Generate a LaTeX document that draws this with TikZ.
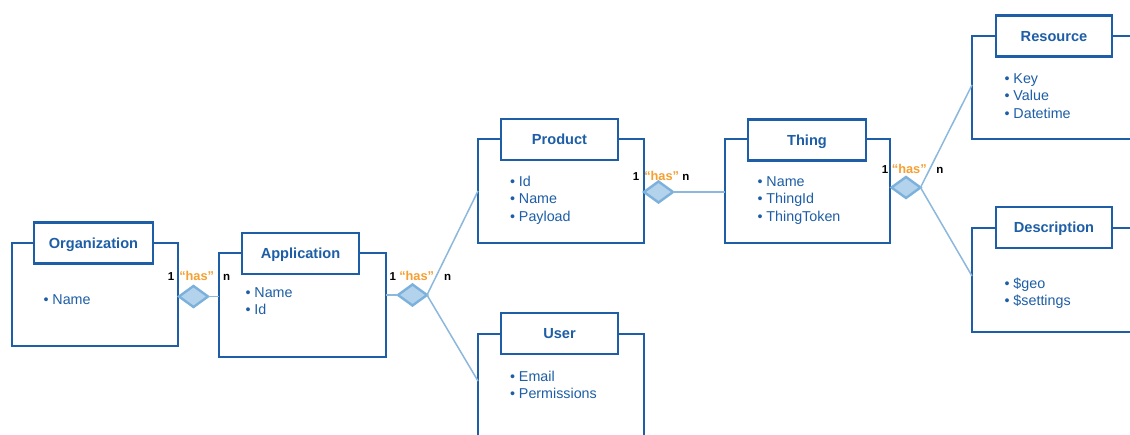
\documentclass[tikz,border=0pt]{standalone}
\usepackage{fontspec}
\setmainfont{Liberation Sans}
\usetikzlibrary{shapes.geometric,calc}
\definecolor{boxblue}{HTML}{1D5EA6}
\definecolor{txtblue}{HTML}{1D5EA6}
\definecolor{linkblue}{HTML}{8CB8DD}
\definecolor{diafill}{HTML}{B3D3ED}
\definecolor{diadraw}{HTML}{7CB1DC}
\definecolor{hasorange}{HTML}{F5A031}
\tikzset{
 entity/.style={draw=boxblue, line width=2.8pt, minimum width=166pt, minimum height=104pt, inner sep=0pt, outer sep=0pt},
 titlebox/.style={draw=boxblue, fill=white, line width=2.8pt, minimum width=117pt, minimum height=41pt, inner sep=0pt, outer sep=0pt, text=txtblue, font=\fontsize{14.6}{17}\selectfont\bfseries, text height=10.45pt, text depth=0pt},
 items/.style={anchor=north west, inner sep=0pt, outer sep=0pt, align=left, text=txtblue, font=\fontsize{14.3}{17.5}\selectfont},
 rel/.style={diamond, draw=diadraw, fill=diafill, line width=2.4pt, minimum width=29pt, minimum height=21pt, inner sep=0pt, outer sep=0pt},
 link/.style={draw=linkblue, line width=1.5pt},
 hastext/.style={anchor=base, inner sep=0pt, text=hasorange, font=\fontsize{12.8}{14}\selectfont\bfseries},
 card/.style={anchor=base, inner sep=0pt, text=black, font=\fontsize{11.5}{13}\selectfont\bfseries},
}
\begin{document}
\begin{tikzpicture}[x=1pt,y=-1pt]
\useasboundingbox (0,0) rectangle (1130,435);
\clip (0,0) rectangle (1130,435);
\fill[white] (0,0) rectangle (1130,435);

% entity outer boxes
\node[entity, minimum height=103pt] (org) at (95,294.5) {};
\node[entity, minimum width=167pt] (app) at (302.5,305) {};
\node[entity] (product) at (561,191) {};
\node[entity, minimum width=165pt] (thing) at (807.5,191) {};
\node[entity] (user) at (561,386) {};
\node[entity, minimum height=103pt] (resource) at (1055,87.5) {};
\node[entity] (description) at (1055,280) {};

% title boxes
\node[titlebox, minimum width=119pt] (orgT) at (93.5,243) {Organization};
\node[titlebox] (appT) at (300.5,253.5) {Application};
\node[titlebox] (productT) at (559.5,139.5) {Product};
\node[titlebox, minimum width=118pt] (thingT) at (807,140) {Thing};
\node[titlebox] (userT) at (559.5,333.5) {User};
\node[titlebox, minimum width=116pt] (resourceT) at (1054,36) {Resource};
\node[titlebox, minimum width=116pt] (descriptionT) at (1054,227.5) {Description};

% attribute lists
\node[items] (orgI) at (43.5,291.9) {\strut• Name};
\node[items] (appI) at (245.5,285.2) {\strut• Name\\\strut• Id};
\node[items] (productI) at (510,173.9) {\strut• Id\\\strut• Name\\\strut• Payload};
\node[items] (thingI) at (757.5,173.9) {\strut• Name\\\strut• ThingId\\\strut• ThingToken};
\node[items] (userI) at (510,368.9) {\strut• Email\\\strut• Permissions};
\node[items] (resourceI) at (1004.5,71.2) {\strut• Key\\\strut• Value\\\strut• Datetime};
\node[items] (descriptionI) at (1004.5,276.2) {\strut• \$geo\\\strut• \$settings};

% relationship diamonds
\node[rel] (d1) at (193.5,296.5) {};
\node[rel] (d2) at (412.5,295) {};
\node[rel] (d3) at (658.5,192) {};
\node[rel] (d4) at (906,187.5) {};

% connectors
\draw[link] (d1.east) -- (d1.east -| app.west);
\draw[link] (d2.west -| app.east) -- (d2.west);
\draw[link] (d2.east) -- (product.west);
\draw[link] (d2.east) -- ([yshift=5pt]user.west);
\draw[link] (d3.east) -- (d3.east -| thing.west);
\draw[link] (d4.east) -- ([yshift=2.5pt]resource.west);
\draw[link] (d4.east) -- ([yshift=4pt]description.west);

% labels
\node[card] (d1one) at (171,281) {1};
\node[hastext] (d1has) at (196.7,281) {“has”};
\node[card] (d1n) at (226.7,281) {n};
\node[card] (d2one) at (392.7,281) {1};
\node[hastext] (d2has) at (416.7,281) {“has”};
\node[card] (d2n) at (447.7,281) {n};
\node[card] (d3one) at (636,180.5) {1};
\node[hastext] (d3has) at (661.7,180.5) {“has”};
\node[card] (d3n) at (686,180.5) {n};
\node[card] (d4one) at (885,173.3) {1};
\node[hastext] (d4has) at (909.3,173.3) {“has”};
\node[card] (d4n) at (940,173.3) {n};
\end{tikzpicture}
\end{document}
